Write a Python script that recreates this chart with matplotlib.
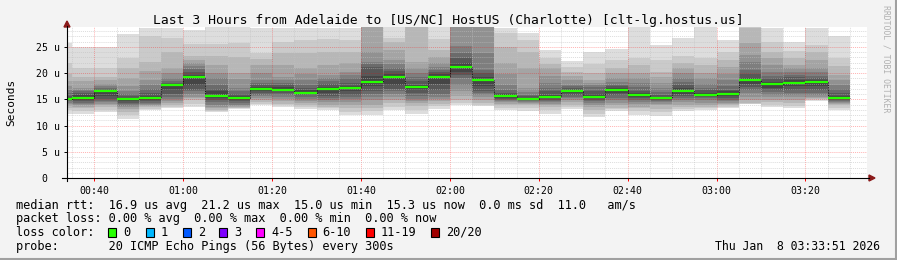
import matplotlib
matplotlib.use("Agg")
import matplotlib.pyplot as plt
from matplotlib.lines import Line2D
from matplotlib.patches import Polygon, Rectangle

plt.rcParams['font.family'] = ['DejaVu Sans Mono']

# 5 minute step start times
bar_times = ["00:30", "00:35", "00:40", "00:45", "00:50", "00:55",
             "01:00", "01:05", "01:10", "01:15", "01:20", "01:25",
             "01:30", "01:35", "01:40", "01:45", "01:50", "01:55",
             "02:00", "02:05", "02:10", "02:15", "02:20", "02:25",
             "02:30", "02:35", "02:40", "02:45", "02:50", "02:55",
             "03:00", "03:05", "03:10", "03:15", "03:20", "03:25"]

# median rtt per step (us)
median_rtt = [15.0, 15.3, 16.5, 15.0, 15.3, 17.8, 19.3, 15.6, 15.3, 17.0,
              16.8, 16.3, 17.0, 17.2, 18.3, 19.3, 17.4, 19.3, 21.2, 18.6,
              15.6, 15.0, 15.5, 16.6, 15.5, 16.8, 15.8, 15.3, 16.6, 15.8,
              16.1, 18.7, 17.9, 18.2, 18.3, 15.3]

# 20 sorted pings per step (us)
smoke = [
    [12.3, 12.9, 13.4, 13.8, 14.1, 14.4, 14.6, 14.8, 14.9, 14.95, 15.05, 15.3, 15.7, 16.2, 16.8, 17.5, 18.5, 19.8, 22.0, 25.7],
    [12.2, 12.8, 13.3, 13.6, 13.9, 14.1, 14.4, 14.6, 14.9, 15.2, 15.4, 15.8, 16.2, 16.5, 16.8, 17.1, 18.5, 19.3, 20.9, 24.9],
    [12.5, 13.0, 13.5, 13.9, 14.2, 14.5, 14.7, 15.0, 15.6, 16.4, 16.6, 16.7, 16.9, 17.1, 17.5, 18.0, 18.6, 19.3, 21.0, 24.9],
    [11.3, 12.0, 12.6, 13.1, 13.5, 13.8, 14.1, 14.3, 14.6, 14.9, 15.1, 15.3, 15.6, 16.0, 16.6, 17.5, 19.0, 21.0, 22.8, 27.4],
    [13.0, 13.2, 13.5, 13.7, 13.9, 14.2, 14.4, 14.6, 14.9, 15.2, 15.4, 15.7, 16.2, 17.0, 17.8, 18.7, 20.5, 22.2, 27.0, 28.6],
    [13.3, 13.6, 14.0, 14.3, 14.7, 15.1, 15.5, 16.0, 16.8, 17.7, 17.9, 18.0, 18.2, 18.5, 19.0, 20.0, 20.9, 24.0, 26.7, 28.6],
    [13.6, 14.2, 14.8, 15.2, 15.5, 16.0, 16.5, 16.8, 17.8, 19.2, 19.4, 19.7, 20.2, 20.8, 21.4, 21.9, 22.6, 23.2, 25.5, 28.2],
    [12.5, 12.8, 13.0, 13.3, 13.6, 14.0, 14.5, 14.9, 15.2, 15.6, 15.8, 16.5, 17.0, 17.8, 19.0, 20.0, 21.5, 23.2, 25.5, 28.9],
    [13.2, 13.3, 13.4, 13.5, 13.7, 13.9, 14.3, 14.6, 14.9, 15.2, 15.4, 15.6, 16.0, 16.5, 17.1, 18.8, 20.0, 23.0, 25.7, 28.9],
    [13.9, 14.2, 14.5, 14.9, 15.3, 15.6, 15.9, 16.2, 16.6, 16.9, 17.1, 17.4, 17.8, 18.2, 18.7, 20.0, 21.6, 22.7, 23.8, 28.7],
    [13.6, 13.9, 14.2, 14.7, 15.1, 15.5, 15.9, 16.2, 16.5, 16.7, 16.9, 17.3, 17.7, 18.1, 18.7, 19.3, 21.5, 23.8, 26.0, 28.7],
    [13.2, 13.5, 13.9, 14.3, 14.7, 15.1, 15.5, 15.8, 16.1, 16.2, 16.4, 16.7, 17.1, 17.8, 18.7, 19.8, 20.9, 23.8, 26.3, 28.6],
    [13.0, 13.3, 13.6, 14.0, 14.5, 14.9, 15.2, 15.7, 16.3, 16.9, 17.1, 17.4, 17.9, 18.5, 19.1, 19.7, 21.6, 24.0, 26.5, 28.6],
    [12.0, 12.6, 13.3, 13.9, 14.5, 15.0, 15.4, 15.8, 16.5, 17.1, 17.3, 17.6, 18.2, 19.0, 19.6, 20.3, 21.9, 24.0, 26.3, 28.6],
    [12.0, 12.7, 13.3, 14.0, 14.8, 15.5, 16.0, 16.5, 17.5, 18.2, 18.4, 19.5, 21.2, 21.7, 22.2, 24.1, 29.5, 30.5, 32.0, 34.0],
    [13.0, 13.6, 14.3, 14.9, 15.5, 16.1, 16.6, 17.0, 17.8, 19.2, 19.4, 19.8, 20.4, 20.9, 21.7, 22.5, 24.5, 26.0, 26.7, 28.9],
    [12.3, 13.0, 13.7, 14.3, 14.7, 15.1, 15.6, 16.2, 16.8, 17.3, 17.5, 17.8, 18.5, 19.2, 20.0, 21.0, 22.2, 28.8, 30.0, 31.0],
    [13.2, 13.7, 14.2, 14.6, 15.1, 15.5, 16.1, 16.8, 18.0, 19.2, 19.4, 19.8, 20.2, 20.6, 21.2, 21.9, 23.0, 24.4, 26.5, 28.9],
    [13.9, 14.4, 14.9, 15.7, 16.5, 17.8, 19.0, 19.6, 20.3, 21.1, 21.3, 21.9, 22.8, 23.8, 25.1, 29.4, 30.0, 31.0, 32.0, 33.0],
    [13.8, 14.0, 14.4, 14.9, 15.4, 15.8, 16.2, 16.5, 17.5, 18.5, 18.7, 19.3, 20.0, 20.6, 23.8, 29.4, 30.0, 31.0, 32.0, 33.0],
    [13.0, 13.4, 13.9, 14.2, 14.5, 14.7, 14.9, 15.1, 15.3, 15.5, 15.7, 16.0, 16.2, 16.8, 17.8, 19.8, 21.9, 25.0, 27.6, 28.6],
    [12.8, 13.3, 13.9, 14.1, 14.3, 14.5, 14.7, 14.8, 14.9, 14.95, 15.05, 15.3, 15.6, 15.8, 16.4, 17.1, 21.0, 24.0, 26.3, 27.6],
    [12.3, 13.0, 13.5, 13.9, 14.2, 14.5, 14.7, 14.9, 15.2, 15.4, 15.6, 15.9, 16.5, 17.2, 18.1, 19.5, 20.9, 21.8, 22.8, 24.4],
    [13.2, 13.6, 14.0, 14.5, 14.9, 15.2, 15.5, 15.9, 16.3, 16.5, 16.7, 16.8, 17.1, 17.5, 17.8, 18.6, 19.5, 20.3, 21.2, 22.3],
    [11.6, 12.3, 13.0, 13.6, 14.0, 14.3, 14.6, 14.9, 15.2, 15.4, 15.6, 16.0, 16.6, 17.4, 17.8, 18.2, 18.7, 20.0, 21.8, 24.1],
    [12.8, 13.1, 13.3, 13.9, 14.4, 14.9, 15.3, 15.8, 16.3, 16.7, 16.9, 17.1, 17.5, 17.8, 18.4, 19.0, 20.0, 20.9, 22.5, 24.6],
    [12.0, 12.8, 13.3, 13.6, 14.1, 14.5, 14.9, 15.2, 15.5, 15.7, 15.9, 16.2, 16.5, 17.3, 18.1, 19.0, 20.0, 21.5, 22.8, 28.8],
    [11.8, 12.5, 13.2, 13.9, 14.2, 14.5, 14.7, 14.9, 15.1, 15.25, 15.35, 15.5, 15.9, 16.4, 17.1, 18.2, 19.3, 20.3, 22.5, 25.4],
    [12.8, 13.2, 13.6, 14.0, 14.5, 14.9, 15.2, 15.6, 16.1, 16.5, 16.7, 17.1, 17.7, 18.3, 19.0, 20.0, 20.9, 22.0, 23.2, 26.7],
    [13.0, 13.3, 13.6, 14.0, 14.4, 14.9, 15.2, 15.4, 15.6, 15.7, 15.9, 16.3, 16.7, 17.1, 18.0, 19.0, 20.0, 21.5, 22.8, 28.9],
    [13.3, 13.6, 13.9, 14.1, 14.3, 14.6, 14.9, 15.3, 15.7, 16.0, 16.2, 16.5, 16.8, 17.6, 18.7, 19.8, 21.2, 22.5, 24.1, 26.3],
    [14.1, 14.2, 14.3, 14.8, 15.5, 16.2, 16.8, 17.4, 17.9, 18.6, 18.8, 19.0, 19.8, 20.6, 22.2, 23.5, 25.7, 28.7, 30.0, 31.0],
    [13.6, 14.0, 14.5, 14.9, 15.4, 15.9, 16.4, 16.8, 17.2, 17.8, 18.0, 18.4, 19.0, 19.5, 20.3, 21.5, 22.8, 24.1, 26.0, 28.7],
    [13.3, 13.8, 14.3, 14.9, 15.4, 15.9, 16.3, 16.8, 17.5, 18.1, 18.3, 18.7, 19.2, 19.7, 20.3, 21.0, 21.6, 22.8, 24.2, 26.0],
    [14.6, 14.8, 15.0, 15.2, 15.5, 15.8, 16.2, 16.7, 17.5, 18.2, 18.4, 18.7, 19.0, 19.5, 20.2, 20.9, 22.5, 24.0, 25.4, 28.6],
    [13.0, 13.4, 13.9, 14.1, 14.3, 14.5, 14.7, 14.9, 15.1, 15.2, 15.4, 15.7, 16.2, 17.0, 17.8, 18.7, 19.7, 21.3, 22.8, 27.0],
]

tick_times = ["00:40", "01:00", "01:20", "01:40", "02:00",
              "02:20", "02:40", "03:00", "03:20"]
y_ticks = [0, 5, 10, 15, 20, 25]
y_labels = ["0  ", "5 u", "10 u", "15 u", "20 u", "25 u"]

loss_labels = ["0", "1", "2", "3", "4-5", "6-10", "11-19", "20/20"]
loss_colors = ['#26ff00', '#00b8ff', '#0059ff', '#7e00ff',
               '#ff00ff', '#ff5500', '#ff0000', '#a10000']

title = "Last 3 Hours from Adelaide to [US/NC] HostUS (Charlotte) [clt-lg.hostus.us]"
stat_lines = [
    "median rtt:  16.9 us avg  21.2 us max  15.0 us min  15.3 us now  0.0 ms sd  11.0   am/s",
    "packet loss: 0.00 % avg  0.00 % max  0.00 % min  0.00 % now",
    "loss color:",
    "probe:       20 ICMP Echo Pings (56 Bytes) every 300s",
]
stamp = "Thu Jan  8 03:33:51 2026"


def to_min(t):
    h, m = t.split(":")
    return int(h) * 60 + int(m)


W, H = 897, 260


def fx(px):
    return px / W


def fy(py):
    return 1 - py / H


x = [to_min(t) for t in bar_times]
t_end = to_min("03:33") + 51 / 60
t_start = t_end - 180

fig = plt.figure(figsize=(W / 100, H / 100), dpi=100, facecolor='#f3f3f3')
ax = fig.add_axes([fx(67), fy(178), fx(800), 151 / H])
ax.set_facecolor('white')

# smoke bands, outer (light) to inner (dark)
for k in range(10):
    lo = [p[k] for p in smoke]
    hi = [p[19 - k] for p in smoke]
    g = int(190 / 10 * (9 - k)) + 50
    ax.bar(x, [h - l for h, l in zip(hi, lo)], bottom=lo, width=5, align='edge',
           color='#%02x%02x%02x' % (g, g, g), linewidth=0, antialiased=False, zorder=1)

# median
edges = x + [x[-1] + 5]
ax.stairs(median_rtt, edges, color='black', linewidth=0.6, linestyle=(0, (1, 1)),
          zorder=4, baseline=None)
ax.hlines(median_rtt, x, [v + 5 for v in x], color=loss_colors[0], linewidth=1.6, zorder=5)

ax.set_xlim(t_start, t_end)
ax.set_ylim(0, 28.8)

ax.set_xticks([to_min(t) for t in tick_times], tick_times)
ax.set_xticks([v for v in range(35, 214, 5) if v % 20 != 0], minor=True)
ax.set_yticks(y_ticks, y_labels)
ax.set_yticks([v for v in range(1, 29) if v % 5 != 0], minor=True)

ax.set_axisbelow(False)
ax.grid(which='minor', color='#c0c0c0', linestyle=(0, (1, 1)), linewidth=0.7, alpha=0.55)
ax.grid(which='major', color='#ff0000', linestyle=(0, (1, 1)), linewidth=0.7, alpha=0.3)

ax.tick_params(axis='x', which='major', length=2.2, width=0.7, color='#ff0000',
               pad=3.5, labelsize=7.1)
ax.tick_params(axis='y', which='major', length=2.2, width=0.7, color='black',
               pad=2.8, labelsize=7.1)
ax.tick_params(which='minor', length=0)
for s in ax.spines.values():
    s.set_visible(False)

# axes lines with arrows
fig.add_artist(Line2D([fx(62), fx(869)], [fy(178), fy(178)], color='black', linewidth=0.8))
fig.add_artist(Line2D([fx(67), fx(67)], [fy(181), fy(26)], color='black', linewidth=0.8))
fig.add_artist(Polygon([[fx(67), fy(21)], [fx(64), fy(27)], [fx(70), fy(27)]],
                       closed=True, color='#8b1a1a'))
fig.add_artist(Polygon([[fx(875), fy(178)], [fx(869), fy(175)], [fx(869), fy(181)]],
                       closed=True, color='#8b1a1a'))

fig.text(fx(448), fy(24), title, ha='center', va='baseline', fontsize=9.4)
fig.text(fx(11), fy(102), "Seconds", rotation=90, ha='center', va='center', fontsize=8)
fig.text(fx(886), fy(5), "RRDTOOL / TOBI OETIKER", rotation=270, ha='center', va='top',
         fontsize=5.9, color='#b0b0b0')

baselines = [208.5, 222.2, 235.9, 249.6]
for line, yb in zip(stat_lines, baselines):
    fig.text(fx(16), fy(yb), line, ha='left', va='baseline', fontsize=8.55)
fig.text(fx(880), fy(249.6), stamp, ha='right', va='baseline', fontsize=8.3)

box_x = [108, 146, 183, 219, 256, 307.5, 366, 431]
for bx, lab, col in zip(box_x, loss_labels, loss_colors):
    fig.add_artist(Rectangle((fx(bx), fy(237)), fx(8), 9 / H, facecolor=col,
                             edgecolor='black', linewidth=0.8))
    fig.text(fx(bx + 15), fy(235.9), lab, ha='left', va='baseline', fontsize=8.55)

# frame
fig.add_artist(Line2D([0, 1], [fy(258.8), fy(258.8)], color='#a0a0a0', linewidth=1.5))
fig.add_artist(Line2D([fx(895.8), fx(895.8)], [0, 1], color='#a0a0a0', linewidth=1.5))

fig.savefig("out.png", dpi=100, facecolor=fig.get_facecolor())
